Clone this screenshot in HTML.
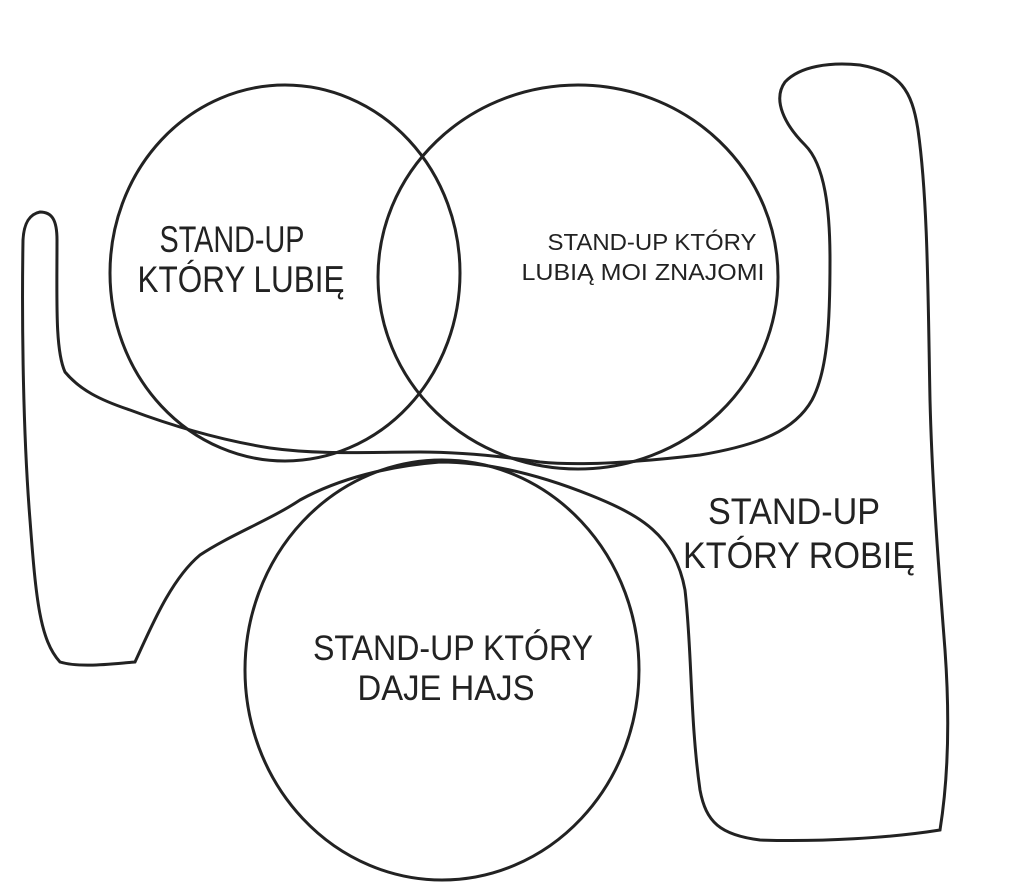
<!DOCTYPE html>
<html><head><meta charset="utf-8"><style>
html,body{margin:0;padding:0;background:#fff;}
svg{display:block}
text{font-family:"Liberation Sans",sans-serif;fill:#222;text-anchor:middle}
</style></head><body>
<svg width="1024" height="891" viewBox="0 0 1024 891" xmlns="http://www.w3.org/2000/svg">
<g fill="none" stroke="#222" stroke-width="3">
<path d="M40,212 C30,214 24,222 23,240 C22,300 22,420 30,520 C36,600 40,640 60,662 C80,668 110,664 135,662 C150,630 170,580 200,555 C230,535 270,520 300,500 C340,478 390,466 440,462 C490,462 540,475 590,495 C640,515 675,535 685,590 C692,650 690,720 700,790 C706,822 720,835 760,840 C820,842 890,838 940,830 C948,780 950,720 945,650 C938,560 932,480 930,400 C928,300 928,200 918,130 C912,90 900,72 860,65 C830,62 800,66 785,82 C772,100 785,125 805,145 C825,165 830,210 830,260 C830,320 828,370 812,400 C795,430 760,445 700,455 C640,462 580,466 540,462 C500,456 460,452 420,452 C370,452 320,455 270,448 C220,440 170,425 130,410 C100,400 80,390 65,372 C55,350 57,300 57,240 C57,220 52,212 40,212 Z"/>
<ellipse cx="285" cy="273" rx="175" ry="188"/>
<ellipse cx="578" cy="277" rx="200" ry="192"/>
<ellipse cx="442" cy="670" rx="197" ry="210"/>
</g>
<text x="232" y="252" font-size="37" textLength="145" lengthAdjust="spacingAndGlyphs">STAND-UP</text>
<text x="241" y="292" font-size="37" textLength="207" lengthAdjust="spacingAndGlyphs">KTÓRY LUBIĘ</text>
<text x="652" y="250" font-size="23" textLength="209" lengthAdjust="spacingAndGlyphs">STAND-UP KTÓRY</text>
<text x="643" y="280" font-size="23" textLength="243" lengthAdjust="spacingAndGlyphs">LUBIĄ MOI ZNAJOMI</text>
<text x="794" y="524" font-size="37" textLength="172" lengthAdjust="spacingAndGlyphs">STAND-UP</text>
<text x="799" y="568" font-size="37" textLength="232" lengthAdjust="spacingAndGlyphs">KTÓRY ROBIĘ</text>
<text x="453" y="660" font-size="35" textLength="280" lengthAdjust="spacingAndGlyphs">STAND-UP KTÓRY</text>
<text x="446" y="700" font-size="35" textLength="177" lengthAdjust="spacingAndGlyphs">DAJE HAJS</text>
</svg>
</body></html>
